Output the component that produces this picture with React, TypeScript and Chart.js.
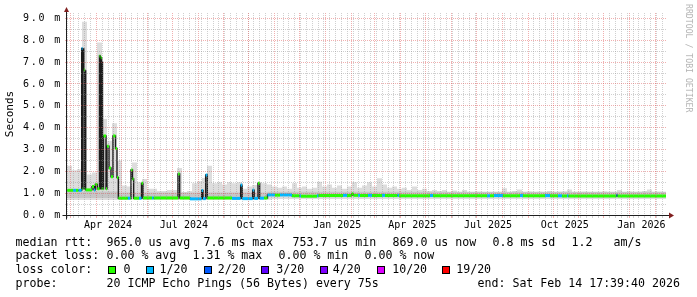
import React, { useEffect, useRef } from 'react';
import { Chart, registerables } from 'chart.js';

Chart.register(...registerables);

// ---------------- data ----------------
const DAY = 86400000;
const END_TIME = Date.UTC(2026, 1, 14, 17, 39, 40);
const RANGE_DAYS = 720;
const START_TIME = END_TIME - RANGE_DAYS * DAY;
const DATA_END_DAY = 718.8;

const LOSS_LABELS = ['0', '1/20', '2/20', '3/20', '4/20', '10/20', '19/20'];
const LOSS_COLORS = ['#26ff00', '#00b8ff', '#0059ff', '#5e00ff', '#7e00ff', '#dd00ff', '#ff0000'];

// median rtt (ms), run-length: start day, value, loss class
const MEDIAN_START = [0, 7.2, 10.8, 13.8, 17.6, 18.6, 19.2, 20.2, 21.2, 21.8, 22.4, 30.0, 32.4, 34.0, 36.4, 39.0, 40.0, 40.6, 41.6, 42.0, 42.6, 43.8, 46.8, 48.0, 50.4, 52.8, 55.2, 58.2, 60.0, 61.6, 73.0, 76.0, 76.8, 78.6, 80.0, 86.4, 89.4, 91.2, 102, 104, 133.2, 135.2, 147.6, 161.6, 163.2, 166.4, 168.4, 198, 208.4, 210.2, 222.8, 224.6, 229.2, 231.2, 236.4, 240.6, 249.6, 255.6, 270, 279, 280.8, 300, 301.8, 331.2, 336, 341.6, 343.6, 349.2, 351.6, 361.2, 366, 378, 381.6, 396.6, 398.4, 435.6, 439.2, 504, 507.6, 512.4, 523.2, 543.6, 547.2, 573.6, 579.6, 589.2, 594, 600, 601.8, 659.4, 660.6];
const MEDIAN_MS = [1.13, 1.13, 1.13, 1.13, 7.63, 1.2, 7.6, 6.64, 1.2, 6.6, 1.15, 1.3, 1.15, 1.4, 1.2, 7.28, 1.2, 7.2, 1.2, 7.0, 1.2, 3.62, 1.2, 3.15, 2.15, 1.75, 3.62, 3.05, 1.72, 0.77, 0.77, 0.77, 2.06, 1.65, 0.77, 0.77, 1.45, 0.78, 0.78, 0.78, 1.88, 0.78, 0.74, 1.12, 0.75, 1.83, 0.78, 0.76, 1.37, 0.75, 1.14, 0.76, 1.45, 0.77, 0.78, 0.92, 0.91, 0.92, 0.88, 0.88, 0.86, 0.88, 0.89, 0.9, 0.89, 0.97, 0.9, 0.9, 0.89, 0.9, 0.89, 0.9, 0.89, 0.9, 0.88, 0.89, 0.88, 0.88, 0.88, 0.89, 0.88, 0.89, 0.88, 0.89, 0.88, 0.88, 0.87, 0.88, 0.87, 0.9, 0.87];
const MEDIAN_LOSS = [0, 1, 0, 1, 1, 0, 1, 0, 0, 0, 0, 0, 1, 0, 0, 0, 0, 0, 0, 0, 0, 0, 0, 0, 0, 0, 0, 0, 0, 0, 1, 0, 0, 0, 0, 1, 0, 0, 1, 0, 0, 0, 1, 1, 1, 1, 0, 1, 1, 1, 1, 1, 0, 1, 0, 1, 0, 1, 0, 1, 0, 1, 0, 1, 0, 0, 0, 1, 0, 1, 0, 1, 0, 1, 0, 1, 0, 1, 0, 1, 0, 1, 0, 1, 0, 1, 0, 1, 0, 2, 0];

// smoke (ms): outer envelope top, per 6-day bucket
const SMOKE_BUCKET_DAYS = 6;
const SMOKE_HIGH = [
  2.25, 2.05, 2.1, 8.85, 1.85, 1.95, 7.9, 4.4, 3.4, 4.2,
  2.5, 1.35, 1.3, 2.4, 1.5, 1.65, 1.2, 1.2, 1.1, 1.1,
  1.15, 1.15, 2.15, 1.05, 1.1, 1.45, 1.55, 1.7, 2.25, 1.45,
  1.5, 1.4, 1.5, 1.45, 1.5, 1.2, 1.3, 1.37, 1.5, 1.45,
  1.4, 1.3, 1.25, 1.3, 1.2, 1.45, 1.25, 1.3, 1.2, 1.25,
  1.52, 1.3, 1.4, 1.25, 1.35, 1.2, 1.3, 1.5, 1.25, 1.35,
  1.5, 1.3, 1.68, 1.4, 1.25, 1.3, 1.2, 1.25, 1.15, 1.3,
  1.15, 1.2, 1.1, 1.15, 1.1, 1.15, 1.05, 1.12, 1.05, 1.14,
  1.05, 1.02, 1.07, 1.03, 1.05, 1.02, 1.05, 1.22, 1.05, 1.1,
  1.17, 1.05, 1.08, 1.03, 1.07, 1.05, 1.1, 1.03, 1.06, 1.08,
  1.17, 1.05, 1.03, 1.06, 1.02, 1.05, 1.03, 1.08, 1.04, 1.03,
  1.14, 1.05, 1.08, 1.03, 1.06, 1.1, 1.17, 1.05, 1.07, 1.04,
];
const SMOKE_LOW_START = [0, 61.6, 240.6];
const SMOKE_LOW = [0.69, 0.7, 0.73];
const SMOKE_CORE_START = [0, 61.6, 240.6];
const SMOKE_CORE_LOW = [0.78, 0.8, 0.9];
const SMOKE_CORE_HIGH = [1.08, 1.03, 1.06];

const Y_MAX = 9.25;
const Y_TICK_LABELS = ['0.0 m', '1.0 m', '2.0 m', '3.0 m', '4.0 m', '5.0 m', '6.0 m', '7.0 m', '8.0 m', '9.0 m'];
const X_LABELS = ['Apr 2024', 'Jul 2024', 'Oct 2024', 'Jan 2025', 'Apr 2025', 'Jul 2025', 'Oct 2025', 'Jan 2026'];
const X_LABEL_MONTHS: [number, number][] = [[2024, 3], [2024, 6], [2024, 9], [2025, 0], [2025, 3], [2025, 6], [2025, 9], [2026, 0]];
const LABEL_OFFSET_DAYS = 14;

const LEGEND_ROWS: { top: number; items: [number, string][] }[] = [
  { top: 234.5, items: [[15.5, 'median rtt:'], [106.5, '965.0 us avg'], [203.5, '7.6 ms max'], [292.5, '753.7 us min'], [392.5, '869.0 us now'], [492.5, '0.8 ms sd'], [571.5, '1.2'], [613.5, 'am/s']] },
  { top: 248.4, items: [[15.5, 'packet loss:'], [106.5, '0.00 % avg'], [192.5, '1.31 % max'], [278.5, '0.00 % min'], [364.5, '0.00 % now']] },
  { top: 262.3, items: [[15.5, 'loss color:']] },
  { top: 276.2, items: [[15.5, 'probe:'], [106.5, '20 ICMP Echo Pings (56 Bytes) every 75s'], [477.5, 'end: Sat Feb 14 17:39:40 2026']] },
];
const LOSS_BOX_X = [108, 146, 204, 261, 320, 377, 442];
const LOSS_TEXT_X = [123.5, 159.5, 217.8, 276.2, 332.8, 392.2, 456.2];

// ---------------- helpers ----------------
const GRID_MINOR = 'rgba(143,143,143,0.42)';
const GRID_MAJOR = 'rgba(222,79,79,0.45)';
const AXIS_COLOR = 'rgb(31,31,31)';
const ARROW_COLOR = 'rgb(128,31,31)';
const MONO = '"DejaVu Sans Mono", monospace';

function stepAt(starts: number[], vals: number[], d: number) {
  let v = vals[0];
  for (let i = 0; i < starts.length; i++) if (starts[i] <= d) v = vals[i];
  return v;
}
const dayOf = (t: number) => (t - START_TIME) / DAY;

type XT = { value: number; kind: 'week' | 'month' | 'label'; text?: string };
function buildXTicks(): XT[] {
  const out: XT[] = [];
  const monthSet = new Set<number>();
  const s = new Date(START_TIME);
  for (let y = s.getUTCFullYear(), m = s.getUTCMonth() + 1; ; m++) {
    const t = Date.UTC(y, m, 1);
    if (t > END_TIME) break;
    monthSet.add(t);
    out.push({ value: dayOf(t), kind: 'month' });
  }
  let w = Date.UTC(s.getUTCFullYear(), s.getUTCMonth(), s.getUTCDate() + 1);
  while (new Date(w).getUTCDay() !== 1) w += DAY;
  for (; w <= END_TIME; w += 7 * DAY) {
    if (!monthSet.has(w)) out.push({ value: dayOf(w), kind: 'week' });
  }
  X_LABEL_MONTHS.forEach(([y, m], i) => {
    out.push({ value: dayOf(Date.UTC(y, m, 1)) + LABEL_OFFSET_DAYS, kind: 'label', text: X_LABELS[i] });
  });
  out.sort((a, b) => a.value - b.value);
  return out;
}

export default function App() {
  const ref = useRef<HTMLCanvasElement>(null);

  useEffect(() => {
    const canvas = ref.current;
    if (!canvas) return;

    const xTicks = buildXTicks();
    const yTicks: number[] = [];
    for (let i = 0; i <= 18; i++) yTicks.push(i / 2);

    const smokeX: number[] = SMOKE_HIGH.map((_, i) => i * SMOKE_BUCKET_DAYS);
    smokeX.push(DATA_END_DAY);
    const smokeHiPts = smokeX.map((x, i) => ({ x, y: SMOKE_HIGH[Math.min(i, SMOKE_HIGH.length - 1)] }));
    const smokeLoPts = smokeX.map((x) => ({ x, y: stepAt(SMOKE_LOW_START, SMOKE_LOW, Math.min(x, DATA_END_DAY - 0.01)) }));
    const coreX = [...SMOKE_CORE_START, DATA_END_DAY];
    const coreLoPts = coreX.map((x, i) => ({ x, y: SMOKE_CORE_LOW[Math.min(i, SMOKE_CORE_LOW.length - 1)] }));
    const coreHiPts = coreX.map((x, i) => ({ x, y: SMOKE_CORE_HIGH[Math.min(i, SMOKE_CORE_HIGH.length - 1)] }));
    const medPts = MEDIAN_START.map((x, i) => ({ x, y: MEDIAN_MS[i] }));
    medPts.push({ x: DATA_END_DAY, y: MEDIAN_MS[MEDIAN_MS.length - 1] });
    const capPts: { x: number; y: number | null }[] = [];
    MEDIAN_START.forEach((x, i) => {
      const end = i < MEDIAN_START.length - 1 ? MEDIAN_START[i + 1] : DATA_END_DAY;
      capPts.push({ x, y: MEDIAN_MS[i] }, { x: end, y: MEDIAN_MS[i] }, { x: end, y: null });
    });

    const common = { pointRadius: 0, pointHoverRadius: 0, tension: 0, stepped: true as const };

    const axesPlugin = {
      id: 'rrdAxes',
      afterDraw(chart: any) {
        const { ctx, chartArea } = chart;
        const ax = chartArea.left - 0.5;
        const ay = chartArea.bottom + 0.5;
        ctx.save();
        ctx.strokeStyle = AXIS_COLOR;
        ctx.lineWidth = 1;
        ctx.beginPath();
        ctx.moveTo(ax, chartArea.top - 3);
        ctx.lineTo(ax, ay + 4);
        ctx.moveTo(ax - 4, ay);
        ctx.lineTo(chartArea.right + 3, ay);
        ctx.stroke();
        ctx.fillStyle = ARROW_COLOR;
        ctx.beginPath();
        ctx.moveTo(ax - 2.5, chartArea.top - 1);
        ctx.lineTo(ax + 2.5, chartArea.top - 1);
        ctx.lineTo(ax, chartArea.top - 6);
        ctx.closePath();
        ctx.fill();
        ctx.beginPath();
        ctx.moveTo(chartArea.right + 2, ay - 3);
        ctx.lineTo(chartArea.right + 2, ay + 3);
        ctx.lineTo(chartArea.right + 7, ay);
        ctx.closePath();
        ctx.fill();
        ctx.restore();
      },
    };

    const chart = new Chart(canvas, {
      type: 'line',
      data: {
        datasets: [
          { ...common, data: smokeLoPts, borderWidth: 0, fill: false, order: 60 },
          { ...common, data: smokeHiPts, borderWidth: 0, fill: '-1', backgroundColor: '#dddddd', order: 50 },
          { ...common, data: coreLoPts, borderWidth: 0, fill: false, order: 40 },
          { ...common, data: coreHiPts, borderWidth: 0, fill: '-1', backgroundColor: '#c6c6c6', order: 30 },
          { ...common, data: medPts, borderWidth: 1.4, borderColor: '#1c1c1c', fill: false, order: 20 },
          {
            pointRadius: 0, pointHoverRadius: 0, tension: 0,
            data: capPts as any, borderWidth: 3, borderCapStyle: 'butt', fill: false, spanGaps: false, order: 10,
            borderColor: LOSS_COLORS[0],
            segment: {
              borderColor: (c: any) => LOSS_COLORS[MEDIAN_LOSS[Math.floor(c.p0DataIndex / 3)]],
            },
          } as any,
        ],
      },
      options: {
        animation: false,
        responsive: false,
        devicePixelRatio: 1,
        events: [],
        layout: { padding: { top: 13, right: 30, left: 0, bottom: 0 } },
        plugins: { legend: { display: false }, tooltip: { enabled: false } },
        scales: {
          x: {
            type: 'linear',
            min: 0,
            max: RANGE_DAYS,
            bounds: 'data',
            afterBuildTicks: (s: any) => { s.ticks = xTicks.map((t) => ({ value: t.value })); },
            afterFit: (s: any) => { s.height = 82; },
            ticks: {
              autoSkip: false,
              maxRotation: 0,
              minRotation: 0,
              padding: 1,
              color: '#000',
              font: { family: MONO, size: 10 },
              callback: (_v: any, i: number) => (xTicks[i] && xTicks[i].kind === 'label' ? xTicks[i].text : ''),
            },
            grid: {
              z: 1,
              lineWidth: 1,
              color: (c: any) => {
                const t = xTicks[c.index];
                if (!t || t.kind === 'label') return 'rgba(0,0,0,0)';
                return t.kind === 'month' ? GRID_MAJOR : GRID_MINOR;
              },
              drawTicks: true,
              tickLength: 3,
              tickColor: (c: any) => {
                const t = xTicks[c.index];
                if (!t || t.kind === 'label') return 'rgba(0,0,0,0)';
                return t.kind === 'month' ? GRID_MAJOR : GRID_MINOR;
              },
            },
            border: { display: false, dash: [1, 1] },
          },
          y: {
            type: 'linear',
            min: 0,
            max: Y_MAX,
            bounds: 'data',
            afterBuildTicks: (s: any) => { s.ticks = yTicks.map((v) => ({ value: v })); },
            afterFit: (s: any) => {
              s.width = 67;
              if (!s.__spaced) {
                const orig = s.drawLabels.bind(s);
                s.drawLabels = (area: any) => {
                  const ctx = s.ctx;
                  ctx.save();
                  (ctx as any).letterSpacing = '1.8px';
                  orig(area);
                  ctx.restore();
                };
                s.__spaced = true;
              }
            },
            ticks: {
              autoSkip: false,
              padding: 3,
              color: '#000',
              font: { family: MONO, size: 10 },
              callback: (v: any) => (Number.isInteger(v) ? Y_TICK_LABELS[v] : ''),
            },
            grid: {
              z: 1,
              lineWidth: 1,
              color: (c: any) => {
                const v = c.tick ? c.tick.value : 0;
                if (v === 0) return 'rgba(0,0,0,0)';
                return Number.isInteger(v) ? GRID_MAJOR : GRID_MINOR;
              },
              drawTicks: true,
              tickLength: 2,
              tickColor: (c: any) => {
                const v = c.tick ? c.tick.value : 0;
                return Number.isInteger(v) ? GRID_MAJOR : GRID_MINOR;
              },
            },
            border: { display: false, dash: [1, 1] },
            title: {
              display: true,
              text: 'Seconds',
              color: '#000',
              font: { family: MONO, size: 11 },
              padding: { top: 4, bottom: 0 },
            },
          },
        },
      } as any,
      plugins: [axesPlugin],
    });

    return () => chart.destroy();
  }, []);

  const textStyle: React.CSSProperties = {
    position: 'absolute',
    fontFamily: MONO,
    fontSize: '11.6px',
    lineHeight: '14px',
    color: '#000',
    whiteSpace: 'pre',
  };

  return (
    <div style={{ position: 'absolute', left: 0, top: 0, width: 697, height: 297, background: '#fff', overflow: 'hidden' }}>
      <canvas ref={ref} width={697} height={297} style={{ position: 'absolute', left: 0, top: 0, width: 697, height: 297 }} />
      {LEGEND_ROWS.map((row, ri) =>
        row.items.map(([x, t], ii) => (
          <span key={`${ri}-${ii}`} style={{ ...textStyle, left: x, top: row.top }}>{t}</span>
        ))
      )}
      {LOSS_LABELS.map((l, i) => (
        <React.Fragment key={`loss-${i}`}>
          <div style={{ position: 'absolute', left: LOSS_BOX_X[i], top: 265.5, width: 8, height: 8, boxSizing: 'border-box', border: '1px solid #000', background: LOSS_COLORS[i] }} />
          <span style={{ ...textStyle, left: LOSS_TEXT_X[i], top: 262.3 }}>{l}</span>
        </React.Fragment>
      ))}
      <div style={{ position: 'absolute', left: 694, top: 4, transformOrigin: '0 0', transform: 'rotate(90deg)', fontFamily: MONO, fontSize: '8.2px', lineHeight: '10px', color: '#b4b4b4', whiteSpace: 'pre' }}>
        RRDTOOL / TOBI OETIKER
      </div>
    </div>
  );
}
